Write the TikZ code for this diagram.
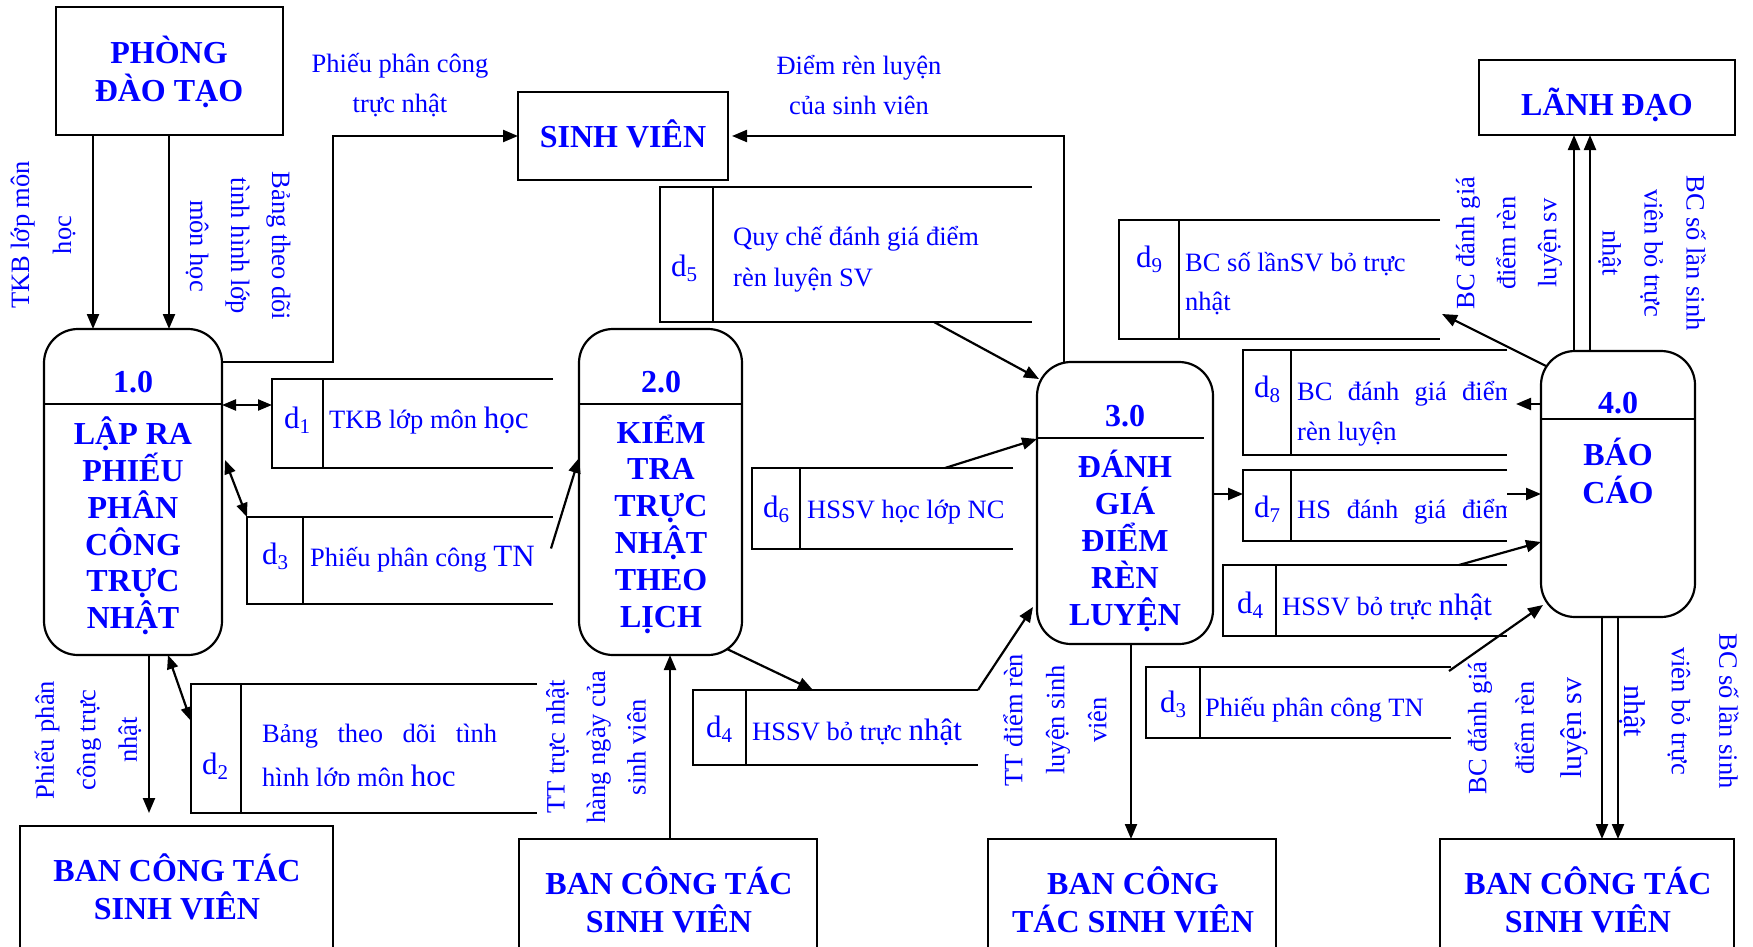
\documentclass[tikz,border=0pt]{standalone}
\usepackage{fontspec}
\setmainfont{Liberation Serif}
\usetikzlibrary{arrows.meta}
\definecolor{txt}{RGB}{0,0,255}
% data store label: d with a lowered index
\newcommand\dsub[1]{d\raisebox{-5pt}{\fontsize{21}{21}\selectfont #1}}
\newcommand\bigword[1]{{\fontsize{31}{31}\selectfont #1}}
% open-ended data store: name, left, top, right, bottom, divider x
\newcommand\dstore[6]{%
  \node[hold,minimum width={(#4-#2)*1pt},minimum height={(#5-#3)*1pt}] (#1) at (#2,#3) {};
  \draw[ln] (#1.north east) -- (#1.north west) -- (#1.south west) -- (#1.south east);
  \draw[ln] (#6,#3) -- (#6,#5);
}
\begin{document}
\begin{tikzpicture}[x=1pt,y=-1pt,
  ln/.style={line width=2.2pt},
  arr/.style={ln,-{Triangle[length=15pt,width=12pt]}},
  darr/.style={ln,{Triangle[length=14pt,width=11pt]}-{Triangle[length=14pt,width=11pt]}},
  ent/.style={draw,line width=2.2pt,inner sep=0pt,outer sep=0pt,anchor=north west},
  proc/.style={ent,rounded corners=34pt},
  hold/.style={inner sep=0pt,outer sep=0pt,anchor=north west},
  big/.style={text=txt,font=\bfseries\fontsize{32}{37.5}\selectfont,align=center,inner sep=0pt},
  body/.style={big,font=\bfseries\fontsize{32}{36.8}\selectfont},
  lbl/.style={text=txt,font=\fontsize{26.5}{40}\selectfont,align=center,inner sep=0pt},
  stxt/.style={text=txt,font=\fontsize{26.5}{40}\selectfont,align=left,anchor=west,inner sep=0pt},
  dlab/.style={text=txt,font=\fontsize{31}{31}\selectfont,inner sep=0pt},
]
\useasboundingbox (0,0) rectangle (1753,947);
\clip (0,0) rectangle (1753,947);

% ---------- external entities ----------
\node[ent,minimum width=227pt,minimum height=128pt] (pdt) at (56,7) {};
\node[ent,minimum width=210pt,minimum height=88pt] (sv) at (518,92) {};
\node[ent,minimum width=256pt,minimum height=75pt] (ld) at (1479,60) {};
\node[ent,minimum width=313pt,minimum height=200pt] (bct1) at (20,826) {};
\node[ent,minimum width=298pt,minimum height=200pt] (bct2) at (519,839) {};
\node[ent,minimum width=288pt,minimum height=200pt] (bct3) at (988,839) {};
\node[ent,minimum width=294pt,minimum height=200pt] (bct4) at (1440,839) {};

\node[big] (t-pdt) at (169,72) {PHÒNG\\ĐÀO TẠO};
\node[big] (t-sv) at (623,134) {SINH VIÊN};
\node[big] (t-ld) at (1607,105) {LÃNH ĐẠO};
\node[big] (t-bct1) at (177,887) {BAN CÔNG TÁC\\SINH VIÊN};
\node[big] (t-bct2) at (669,900) {BAN CÔNG TÁC\\SINH VIÊN};
\node[big] (t-bct3) at (1133,900) {BAN CÔNG\\TÁC SINH VIÊN};
\node[big] (t-bct4) at (1588,900) {BAN CÔNG TÁC\\SINH VIÊN};

% ---------- processes ----------
\node[proc,minimum width=178pt,minimum height=326pt] (p1) at (44,329) {};
\node[proc,minimum width=163pt,minimum height=326pt] (p2) at (579,329) {};
\node[proc,minimum width=176pt,minimum height=282pt] (p3) at (1037,362) {};
\node[proc,minimum width=154pt,minimum height=266pt] (p4) at (1541,351) {};
\draw[ln] (44,404) -- (222,404);
\draw[ln] (579,404) -- (742,404);
\draw[ln] (1037,438) -- (1204,438);
\draw[ln] (1541,419) -- (1695,419);

\node[big] (n-p1) at (133,382) {1.0};
\node[body] (b-p1) at (133,526) {LẬP RA\\PHIẾU\\PHÂN\\CÔNG\\TRỰC\\NHẬT};
\node[big] (n-p2) at (661,382) {2.0};
\node[body] (b-p2) at (661,524) {KIỂM\\TRA\\TRỰC\\NHẬT\\THEO\\LỊCH};
\node[big] (n-p3) at (1125,416) {3.0};
\node[body] (b-p3) at (1125,541) {ĐÁNH\\GIÁ\\ĐIỂM\\RÈN\\LUYỆN};
\node[big] (n-p4) at (1618,403) {4.0};
\node[body,font=\bfseries\fontsize{32}{38}\selectfont] (b-p4) at (1618,471) {BÁO\\CÁO};

% ---------- data stores ----------
\dstore{d1}{272}{379}{553}{468}{323}
\dstore{d3l}{247}{517}{553}{604}{303}
\dstore{d2}{191}{684}{537}{813}{241}
\dstore{d5}{660}{187}{1032}{322}{713}
\dstore{d6}{752}{468}{1013}{549}{800}
\dstore{d4m}{693}{690}{978}{765}{746}
\dstore{d9}{1119}{220}{1440}{339}{1179}
\dstore{d8}{1243}{350}{1507}{455}{1291}
\dstore{d7}{1243}{470}{1507}{541}{1291}
\dstore{d4r}{1223}{565}{1507}{636}{1276}
\dstore{d3r}{1146}{667}{1451}{738}{1200}

\node[dlab] (l-d1) at (297,420) {\dsub{1}};
\node[dlab] (l-d3l) at (275,556) {\dsub{3}};
\node[dlab] (l-d2) at (215,766) {\dsub{2}};
\node[dlab] (l-d5) at (684,268) {\dsub{5}};
\node[dlab] (l-d6) at (776,509) {\dsub{6}};
\node[dlab] (l-d4m) at (719,729) {\dsub{4}};
\node[dlab] (l-d9) at (1149,259) {\dsub{9}};
\node[dlab] (l-d8) at (1267,389) {\dsub{8}};
\node[dlab] (l-d7) at (1267,509) {\dsub{7}};
\node[dlab] (l-d4r) at (1250,605) {\dsub{4}};
\node[dlab] (l-d3r) at (1173,704) {\dsub{3}};

\node[stxt] (s-d1) at (329,421) {TKB lớp môn \bigword{học}};
\node[stxt] (s-d3l) at (310,559) {Phiếu phân công \bigword{TN}};
\begin{scope}
  \clip (241,690) rectangle (537,785);
  \node[stxt,font=\fontsize{26.5}{44}\selectfont] (s-d2) at (262,758)
    {\makebox[235pt][s]{Bảng theo dõi tình}\\hình lớp môn \bigword{học}};
\end{scope}
\node[stxt,font=\fontsize{26.5}{41}\selectfont] (s-d5) at (733,259) {Quy chế đánh giá điểm\\rèn luyện SV};
\node[stxt] (s-d6) at (807,512) {HSSV học lớp NC};
\node[stxt] (s-d4m) at (752,732) {HSSV bỏ trực \bigword{nhật}};
\node[stxt,font=\fontsize{26.5}{39}\selectfont] (s-d9) at (1185,284) {BC số lầnSV bỏ trực\\nhật};
\begin{scope}
  \clip (1291,340) rectangle (1506,560);
  \node[stxt] (s-d8) at (1297,414) {\makebox[218pt][s]{BC đánh giá điểm}\\rèn luyện};
  \node[stxt] (s-d7) at (1297,512) {\makebox[218pt][s]{HS đánh giá điểm}};
\end{scope}
\node[stxt] (s-d4r) at (1282,607) {HSSV bỏ trực \bigword{nhật}};
\node[stxt] (s-d3r) at (1205,710) {Phiếu phân công TN};

% ---------- flow labels ----------
\node[lbl] (f-pc) at (400,85) {Phiếu phân công\\trực nhật};
\node[lbl] (f-drl) at (859,85) {Điểm rèn luyện\\của sinh viên};
\node[lbl,rotate=90,font=\fontsize{26.5}{42}\selectfont] (f-tkb) at (43,235) {TKB lớp môn\\học};
\node[lbl,rotate=-90,font=\fontsize{26.5}{41}\selectfont] (f-btd) at (238,246) {Bảng theo dõi\\tình hình lớp\\môn học};
\node[lbl,rotate=90,font=\fontsize{26.5}{41.5}\selectfont] (f-ppc) at (88,740) {Phiếu phân\\công trực\\nhật};
\node[lbl,rotate=90,font=\fontsize{26.5}{40.5}\selectfont] (f-ttn) at (596,747) {TT trực nhật\\hàng ngày của\\sinh viên};
\node[lbl,rotate=90,font=\fontsize{26.5}{42}\selectfont] (f-tdr) at (1055,720) {TT điểm rèn\\luyện sinh\\viên};
\node[lbl,rotate=90,font=\fontsize{26.5}{41}\selectfont] (f-bc1) at (1509,243) {BC đánh giá\\điểm rèn\\luyện sv};
\node[lbl,rotate=-90,font=\fontsize{26.5}{42}\selectfont] (f-bs1) at (1652,253) {BC số lần sinh\\viên bỏ trực\\nhật};
\node[lbl,rotate=90,font=\fontsize{26.5}{47.5}\selectfont] (f-bc2) at (1528,728) {BC đánh giá\\điểm rèn\\{\fontsize{30}{30}\selectfont luyện sv}};
\node[lbl,rotate=-90,font=\fontsize{26.5}{47.5}\selectfont] (f-bs2) at (1679,711) {BC số lần sinh\\viên bỏ trực\\{\fontsize{30}{30}\selectfont nhật}};

% ---------- flows ----------
\draw[arr] ([xshift=37pt]pdt.south west) -- ([xshift=49pt]p1.north west);
\draw[arr] ([xshift=113pt]pdt.south west) -- ([xshift=125pt]p1.north west);
\draw[arr] ([yshift=-33pt]p1.north east) -- ++(111,0) |- (sv.west);
\draw[darr] ([yshift=-76pt]p1.north east) -- ([yshift=-26pt]d1.north west);
\draw[darr] ([shift={(3pt,-131pt)}]p1.north east) -- (d3l.north west);
\draw[darr] ([xshift=-54pt]p1.south east) -- ([yshift=-37pt]d2.north west);
\draw[arr] ([xshift=105pt]p1.south west) -- ([shift={(129pt,13pt)}]bct1.north west);
\draw[arr] ([shift={(-2pt,12pt)}]d3l.east) -- ([yshift=-129pt]p2.north west);
\draw[arr] ([xshift=151pt]bct2.north west) -- ([xshift=91pt]p2.south west);
\draw[arr] ([shift={(-15pt,6pt)}]p2.south east) -- ([xshift=120pt]d4m.north west);
\draw[arr] (d4m.north east) -- ([shift={(-4pt,37pt)}]p3.south west);
\draw[arr] ([xshift=-68pt]d6.north east) -- ([yshift=-77pt]p3.north west);
\draw[arr] ([xshift=-98pt]d5.south east) -- ([shift={(2pt,-17pt)}]p3.north west);
\draw[arr] ([xshift=27pt]p3.north west) |- ([xshift=4pt]sv.east);
\draw[arr] ([yshift=9pt]p3.east) -- ([yshift=11.5pt]d7.west);
\draw[arr] ([xshift=94pt]p3.south west) -- ([xshift=143pt]bct3.north west);
\draw[arr] ([yshift=11.5pt]d7.east) -- ([yshift=-10pt]p4.west);
\draw[arr] ([yshift=-53pt]p4.north west) -- ([shift={(9pt,-1.5pt)}]d8.east);
\draw[arr] ([shift={(5pt,-15pt)}]p4.north west) -- ([shift={(2pt,-34.5pt)}]d9.east);
\draw[arr] ([xshift=-48pt]d4r.north east) -- ([yshift=-191pt]p4.north west);
\draw[arr] ([shift={(-2pt,-4pt)}]d3r.north east) -- ([shift={(2pt,12pt)}]p4.south west);
\draw[arr] ([xshift=33pt]p4.north west) -- ([xshift=95pt]ld.south west);
\draw[arr] ([xshift=49pt]p4.north west) -- ([xshift=111pt]ld.south west);
\draw[arr] ([xshift=61pt]p4.south west) -- ([xshift=162pt]bct4.north west);
\draw[arr] ([xshift=77pt]p4.south west) -- ([xshift=178pt]bct4.north west);
\end{tikzpicture}
\end{document}
